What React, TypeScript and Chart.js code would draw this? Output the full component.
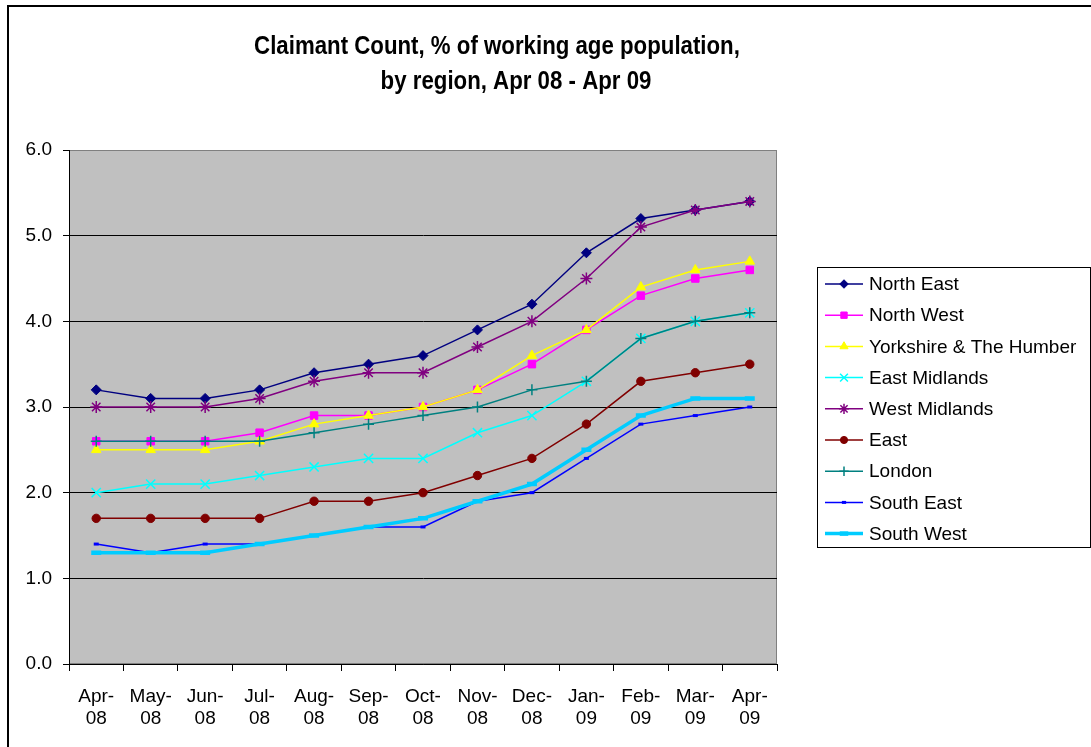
import React, { useEffect, useRef } from 'react';
import { Chart, registerables } from 'chart.js';
import { drawPoint } from 'chart.js/helpers';

Chart.register(...registerables);

const categories: string[][] = [
  ['Apr-', '08'], ['May-', '08'], ['Jun-', '08'], ['Jul-', '08'], ['Aug-', '08'],
  ['Sep-', '08'], ['Oct-', '08'], ['Nov-', '08'], ['Dec-', '08'], ['Jan-', '09'],
  ['Feb-', '09'], ['Mar-', '09'], ['Apr-', '09'],
];

const northEast = [3.2, 3.1, 3.1, 3.2, 3.4, 3.5, 3.6, 3.9, 4.2, 4.8, 5.2, 5.3, 5.4];
const northWest = [2.6, 2.6, 2.6, 2.7, 2.9, 2.9, 3.0, 3.2, 3.5, 3.9, 4.3, 4.5, 4.6];
const yorkshire = [2.5, 2.5, 2.5, 2.6, 2.8, 2.9, 3.0, 3.2, 3.6, 3.9, 4.4, 4.6, 4.7];
const eastMidlands = [2.0, 2.1, 2.1, 2.2, 2.3, 2.4, 2.4, 2.7, 2.9, 3.3, 3.8, 4.0, 4.1];
const westMidlands = [3.0, 3.0, 3.0, 3.1, 3.3, 3.4, 3.4, 3.7, 4.0, 4.5, 5.1, 5.3, 5.4];
const east = [1.7, 1.7, 1.7, 1.7, 1.9, 1.9, 2.0, 2.2, 2.4, 2.8, 3.3, 3.4, 3.5];
const london = [2.6, 2.6, 2.6, 2.6, 2.7, 2.8, 2.9, 3.0, 3.2, 3.3, 3.8, 4.0, 4.1];
const southEast = [1.4, 1.3, 1.4, 1.4, 1.5, 1.6, 1.6, 1.9, 2.0, 2.4, 2.8, 2.9, 3.0];
const southWest = [1.3, 1.3, 1.3, 1.4, 1.5, 1.6, 1.7, 1.9, 2.1, 2.5, 2.9, 3.1, 3.1];

const yMin = 0;
const yMax = 6;
const yStep = 1;

const titleLines = ['Claimant Count, % of working age population,', 'by region, Apr 08 - Apr 09'];

const FONT = "Arial, 'Liberation Sans', sans-serif";

type SeriesDef = {
  label: string;
  data: number[];
  color: string;
  pointStyle: string;
  radius: number;
  lineWidth: number;
  pointBorderWidth: number;
};

const series: SeriesDef[] = [
  { label: 'North East', data: northEast, color: '#000080', pointStyle: 'rectRot', radius: 5, lineWidth: 1.5, pointBorderWidth: 1 },
  { label: 'North West', data: northWest, color: '#FF00FF', pointStyle: 'rect', radius: 5.3, lineWidth: 1.5, pointBorderWidth: 1 },
  { label: 'Yorkshire & The Humber', data: yorkshire, color: '#FFFF00', pointStyle: 'triangle', radius: 5.5, lineWidth: 1.5, pointBorderWidth: 1 },
  { label: 'East Midlands', data: eastMidlands, color: '#00FFFF', pointStyle: 'crossRot', radius: 6.5, lineWidth: 1.5, pointBorderWidth: 1.5 },
  { label: 'West Midlands', data: westMidlands, color: '#800080', pointStyle: 'star', radius: 6, lineWidth: 1.5, pointBorderWidth: 1.5 },
  { label: 'East', data: east, color: '#800000', pointStyle: 'circle', radius: 4.2, lineWidth: 1.5, pointBorderWidth: 1 },
  { label: 'London', data: london, color: '#008080', pointStyle: 'cross', radius: 5.5, lineWidth: 1.5, pointBorderWidth: 1.5 },
  { label: 'South East', data: southEast, color: '#0000FF', pointStyle: 'line', radius: 2.5, lineWidth: 1.5, pointBorderWidth: 3 },
  { label: 'South West', data: southWest, color: '#00CCFF', pointStyle: 'line', radius: 5, lineWidth: 3.5, pointBorderWidth: 4.5 },
];

const framePlugin = {
  id: 'frame',
  beforeDraw(chart: any) {
    const { ctx, chartArea } = chart;
    const { left, top, right, bottom } = chartArea;
    ctx.save();
    ctx.fillStyle = '#FFFFFF';
    ctx.fillRect(0, 0, chart.width, chart.height);
    ctx.strokeStyle = '#000000';
    ctx.lineWidth = 2;
    ctx.strokeRect(8, 6, chart.width + 20, chart.height + 20);
    ctx.fillStyle = '#C0C0C0';
    ctx.fillRect(left, top, right - left, bottom - top);
    ctx.strokeStyle = '#808080';
    ctx.lineWidth = 1;
    ctx.strokeRect(left + 0.5, top + 0.5, right - left - 1, bottom - top - 1);
    ctx.restore();
  },
  afterDraw(chart: any) {
    const { ctx } = chart;
    ctx.save();
    // Title
    ctx.fillStyle = '#000000';
    ctx.font = `bold 25px ${FONT}`;
    ctx.textAlign = 'center';
    ctx.textBaseline = 'alphabetic';
    const centers = [497, 516];
    const baselines = [54, 89];
    titleLines.forEach((line, i) => {
      ctx.save();
      ctx.translate(centers[i], baselines[i]);
      ctx.scale(0.89, 1);
      ctx.fillText(line, 0, 0);
      ctx.restore();
    });
    // Legend
    const bx = 817, by = 267, bw = 273, bh = 280;
    ctx.fillStyle = '#FFFFFF';
    ctx.fillRect(bx, by, bw, bh);
    ctx.strokeStyle = '#000000';
    ctx.lineWidth = 1;
    ctx.strokeRect(bx + 0.5, by + 0.5, bw, bh);
    ctx.font = `19px ${FONT}`;
    ctx.textAlign = 'left';
    ctx.textBaseline = 'middle';
    series.forEach((s, i) => {
      const y = 284 + i * 31.2;
      ctx.strokeStyle = s.color;
      ctx.lineWidth = s.lineWidth;
      ctx.beginPath();
      ctx.moveTo(825, y);
      ctx.lineTo(863, y);
      ctx.stroke();
      ctx.fillStyle = s.color;
      ctx.strokeStyle = s.color;
      ctx.lineWidth = s.pointBorderWidth;
      drawPoint(ctx, { pointStyle: s.pointStyle as any, radius: s.radius * 0.85, rotation: 0, borderWidth: s.pointBorderWidth } as any, 844, y);
      ctx.fillStyle = '#000000';
      ctx.fillText(s.label, 869, y + 1);
    });
    ctx.restore();
  },
};

export default function App() {
  const canvasRef = useRef<HTMLCanvasElement | null>(null);

  useEffect(() => {
    const canvas = canvasRef.current;
    if (!canvas) return;
    const chart = new Chart(canvas, {
      type: 'line',
      data: {
        labels: categories,
        datasets: series.map((s, i) => ({
          label: s.label,
          data: s.data,
          borderColor: s.color,
          backgroundColor: s.color,
          borderWidth: s.lineWidth,
          pointStyle: s.pointStyle as any,
          pointRadius: s.radius,
          pointBorderWidth: s.pointBorderWidth,
          pointBackgroundColor: s.color,
          pointBorderColor: s.color,
          fill: false,
          tension: 0,
          order: series.length - i,
        })),
      },
      options: {
        responsive: false,
        animation: false,
        devicePixelRatio: 1,
        layout: { padding: { top: 150, right: 314, left: 0, bottom: 0 } },
        plugins: {
          legend: { display: false },
          title: { display: false },
          tooltip: { enabled: false },
        },
        scales: {
          x: {
            type: 'category',
            offset: true,
            grid: {
              offset: true,
              drawOnChartArea: false,
              drawTicks: true,
              tickLength: 7,
              tickColor: '#000000',
              color: '#000000',
            },
            border: { color: '#000000', width: 1 },
            ticks: {
              color: '#000000',
              font: { family: FONT, size: 19, lineHeight: 1.2 },
              padding: 14,
              maxRotation: 0,
              minRotation: 0,
              autoSkip: false,
            },
            afterFit: (s: any) => { s.height = 83; },
          },
          y: {
            min: yMin,
            max: yMax,
            ticks: {
              stepSize: yStep,
              color: '#000000',
              font: { family: FONT, size: 19 },
              padding: 11,
              callback: (v: any) => Number(v).toFixed(1),
            },
            grid: {
              color: (c: any) => (c.tick && c.tick.value === yMax ? '#808080' : '#000000'),
              lineWidth: 1,
              drawTicks: true,
              tickLength: 6,
              tickColor: '#000000',
            },
            border: { color: '#000000', width: 1 },
            afterFit: (s: any) => { s.width = 69; },
          },
        },
      },
      plugins: [framePlugin],
    });
    return () => chart.destroy();
  }, []);

  return (
    <div style={{ position: 'absolute', left: 0, top: 0, width: 1091, height: 747, background: '#fff' }}>
      <canvas ref={canvasRef} width={1091} height={747} style={{ width: 1091, height: 747, display: 'block' }} />
    </div>
  );
}
